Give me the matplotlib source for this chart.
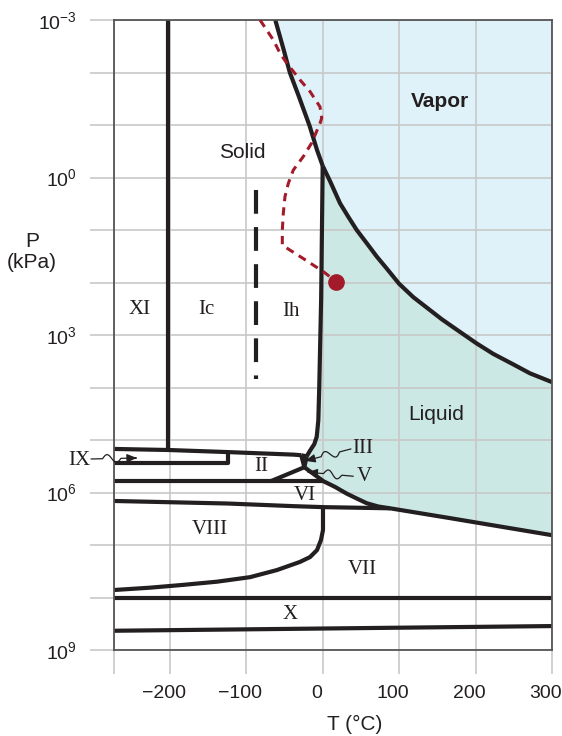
import numpy as np
import matplotlib
matplotlib.use('Agg')
import matplotlib.pyplot as plt
import matplotlib.transforms as mtrans
from matplotlib.patches import FancyArrowPatch
from matplotlib.path import Path

plt.rcParams['font.family'] = ['Liberation Sans', 'DejaVu Sans']
plt.rcParams['mathtext.fontset'] = 'custom'
plt.rcParams['mathtext.rm'] = 'Liberation Sans'
plt.rcParams['mathtext.it'] = 'Liberation Sans:italic'

ink = '#231f20'
red = '#a31b2a'
vapor_c = '#e0f2f9'
liquid_c = '#cbe8e4'

# boundaries: T in degC, P in kPa
sub_T = [-62, -51, -43, -31, -17, -7.4, 0.01]
sub_P = [1e-3, 3.7e-3, 1e-2, 2.9e-2, 0.105, 0.30, 0.6]

vap_T = [0.01, 9.6, 22.7, 33.5, 44.5, 57.6, 70.7, 83.7, 99.8, 118.5, 136.1, 155.7,
         175.3, 201.5, 223.2, 249.4, 271.2, 300]
vap_P = [0.6, 1.17, 3.1, 5.6, 10, 17.8, 32, 54, 105, 190, 300, 500,
         790, 1450, 2290, 3630, 5370, 7900]

melt_T = [0.01, -2, -4.5, -5.7, -7.8, -11, -16, -21]
melt_P = [0.6, 200, 1.0e4, 4.2e4, 8.7e4, 1.2e5, 1.55e5, 2.05e5]

liq_low_T = [-21, -24, 1, 16, 31.4, 44.5, 57.6, 72.8, 88.1, 162, 300]
liq_low_P = [2.05e5, 3.3e5, 6.1e5, 7.8e5, 1.05e6, 1.3e6, 1.6e6, 1.85e6, 2.0e6, 3.0e6, 6.5e6]

ih_ii_T = [-273, -202, -123.5, -38, -28]
ih_ii_P = [1.48e5, 1.55e5, 1.7e5, 1.9e5, 1.95e5]

ih_iii_T = [-28, -21]
ih_iii_P = [1.95e5, 2.05e5]
ii_iii_T = [-28, -24]
ii_iii_P = [1.95e5, 3.3e5]

xi_ic_T = [-202, -202]
xi_ic_P = [1e-3, 1.55e5]

ix_T = [-273, -123.5, -123.5]
ix_P = [2.75e5, 2.75e5, 1.7e5]

ii_vi_T = [-273, 1]
ii_vi_P = [6.1e5, 6.1e5]

ii_v_T = [-68, -24]
ii_v_P = [6.1e5, 3.3e5]

viii_vi_T = [-273, -125, -38, 1, 88.1]
viii_vi_P = [1.45e6, 1.62e6, 1.82e6, 1.9e6, 2.0e6]

vii_viii_T = [0.4, 0.4, -2.2, -7.4, -16.6, -29.7, -59.8, -95.1, -138.3, -182.7, -225.9, -273]
vii_viii_P = [1.9e6, 5.2e6, 8.0e6, 1.25e7, 1.7e7, 2.1e7, 3.0e7, 4.1e7, 5.0e7, 5.75e7, 6.5e7, 7.2e7]

vii_x_T = [-273, 300]
vii_x_P = [1e8, 1e8]

x_low_T = [-273, 300]
x_low_P = [4.3e8, 3.5e8]

ic_ih_T = [-87, -87]
ic_ih_P = [1.74, 6.9e3]

path_T = [-82, -73.2, -64.6, -55.8, -47.1, -29.7, -16.6, -3.5, -1.3, -3.5, -14.4, -25.4,
          -38.4, -45.0, -49.3, -51.5, -52.8, -52.8, -25.4, 0.8, 18]
path_P = [1e-3, 1.55e-3, 2.4e-3, 4.3e-3, 6.6e-3, 1.38e-2, 2.3e-2, 4.5e-2, 7.4e-2, 9.3e-2,
          0.22, 0.40, 0.72, 1.3, 2.3, 4.8, 10, 19.5, 35, 62, 97]
dot_T, dot_P = 18, 97

x_ticks = [-273, -200, -100, 0, 100, 200, 300]
x_labels = ['', '\u2212200', '\u2212100', '0', '100', '200', '300']
y_exps = list(range(-3, 10))
y_labeled = [-3, 0, 3, 6, 9]

fig = plt.figure(figsize=(5.62, 7.36), dpi=100)
ax = fig.add_axes([114 / 562, 1 - 650 / 736, 438 / 562, 630 / 736])
ax.set_yscale('log')
ax.set_xlim(-273, 300)
ax.set_ylim(1e9, 1e-3)

# shaded regions
ax.fill(sub_T + vap_T[1:] + [300], sub_P + vap_P[1:] + [1e-3],
        color=vapor_c, lw=0, zorder=0.2)
ax.fill(vap_T + liq_low_T[::-1] + melt_T[::-1],
        vap_P + liq_low_P[::-1] + melt_P[::-1],
        color=liquid_c, lw=0, zorder=0.2)

# grid and ticks
ax.set_axisbelow(True)
ax.set_xticks(x_ticks)
ax.set_xticklabels(x_labels, fontsize=14)
ax.set_yticks([10.0 ** k for k in y_exps])
ax.set_yticklabels(['$\\mathregular{10^{%d}}$' % k if k in y_labeled else '' for k in y_exps],
                   fontsize=14)
ax.yaxis.set_minor_locator(matplotlib.ticker.NullLocator())
ax.grid(True, color='#c8c8c8', lw=1.2)
ax.tick_params(axis='both', direction='out', length=17, width=1.2, color='#c8c8c8',
               labelcolor=ink)
ax.tick_params(axis='y', pad=10)
ax.tick_params(axis='x', pad=8)
shift = mtrans.ScaledTranslation(-6 / 100, 0, fig.dpi_scale_trans)
for lab in ax.get_xticklabels():
    lab.set_transform(lab.get_transform() + shift)
for s in ax.spines.values():
    s.set_color('#555555')
    s.set_linewidth(1.3)

lines = [(sub_T, sub_P), (vap_T, vap_P), (melt_T, melt_P), (liq_low_T, liq_low_P),
         (ih_ii_T, ih_ii_P), (ih_iii_T, ih_iii_P), (ii_iii_T, ii_iii_P),
         (xi_ic_T, xi_ic_P), (ix_T, ix_P), (ii_vi_T, ii_vi_P), (ii_v_T, ii_v_P),
         (viii_vi_T, viii_vi_P), (vii_viii_T, vii_viii_P), (vii_x_T, vii_x_P),
         (x_low_T, x_low_P)]
for t, p in lines:
    ax.plot(t, p, color=ink, lw=3, solid_capstyle='butt', solid_joinstyle='round', zorder=2)

ax.plot(ic_ih_T, ic_ih_P, color=ink, lw=3, dashes=(5.7, 3.2), dash_capstyle='butt', zorder=2)
ax.plot(path_T, path_P, color=red, lw=2.2, dashes=(2.7, 2.0), zorder=3)
ax.plot([dot_T], [dot_P], 'o', color=red, ms=11, zorder=4)

# labels
sans = dict(fontsize=15, ha='center', va='center', color=ink)
ax.text(-105, 0.34, 'Solid', **sans)
ax.text(154, 0.035, 'Vapor', fontweight='bold', **sans)
ax.text(148, 3.3e4, 'Liquid', **sans)

serif = dict(fontsize=15, ha='center', va='center', color=ink, family='Liberation Serif')
for name, t, p in [('XI', -239, 330), ('Ic', -152, 330), ('Ih', -42, 360),
                   ('II', -80, 3.2e5), ('VI', -23, 1.12e6), ('VIII', -147, 5.1e6),
                   ('VII', 52, 2.9e7), ('X', -42, 2.1e8), ('III', 53, 1.48e5),
                   ('V', 55, 4.9e5)]:
    ax.text(t, p, name, **serif)
ax.text(-318, 2.5e5, 'IX', clip_on=False, **serif)


def squiggle(start, end, amp=4):
    p0 = ax.transData.transform(start)
    p1 = ax.transData.transform(end)
    t = np.linspace(0, 1, 80)
    d = p1 - p0
    n = np.array([-d[1], d[0]]) / np.hypot(*d)
    w = np.where((t > 0.25) & (t < 0.65), np.sin((t - 0.25) / 0.4 * 2 * np.pi), 0)
    pts = p0 + np.outer(t, d) + np.outer(w * amp, n)
    pts = fig.transFigure.inverted().transform(pts)
    arr = FancyArrowPatch(path=Path(pts), arrowstyle='-|>,head_length=0.6,head_width=0.25',
                          mutation_scale=10, lw=0.9, color=ink, transform=fig.transFigure)
    fig.add_artist(arr)


squiggle((-303, 2.3e5), (-243, 2.2e5))
squiggle((37, 1.48e5), (-23, 2.5e5))
squiggle((40, 4.9e5), (-20, 4.1e5))

fig.text(32 / 562, 1 - 252 / 736, 'P\n(kPa)', fontsize=15, ha='center', va='center',
         color=ink, linespacing=1.1)
fig.text(355 / 562, 1 - 724 / 736, 'T (\u00b0C)', fontsize=15, ha='center', va='center',
         color=ink)

fig.savefig('out.png', dpi=100)
